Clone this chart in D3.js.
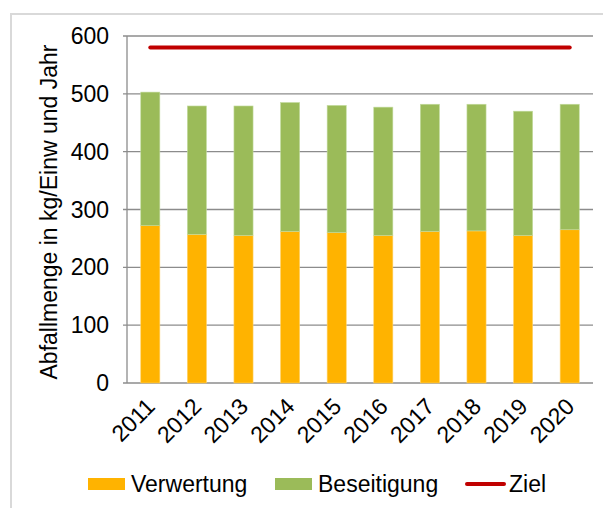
<!DOCTYPE html>
<html>
<head>
<meta charset="utf-8">
<script src="https://cdn.jsdelivr.net/npm/d3@7"></script>
<style>
  body { margin: 0; background: #fff; }
  svg { display: block; font-family: "Liberation Sans", Arial, sans-serif; }
</style>
</head>
<body>
<svg id="chart" width="603" height="508"></svg>
<script>
// Abfallmenge je Einwohner, 2011-2020
var years = ['2011', '2012', '2013', '2014', '2015', '2016', '2017', '2018', '2019', '2020'];
var verwertung = [272, 257, 255, 262, 260, 255, 262, 263, 255, 265];
var beseitigung = [231, 222, 224, 223, 220, 222, 220, 219, 215, 217];
var ziel = 580;
var yTicks = [0, 100, 200, 300, 400, 500, 600];

var svg = d3.select('#chart');

// light frame
svg.append('path')
  .attr('d', 'M11,508 V14 H603')
  .attr('fill', 'none')
  .attr('stroke', '#d9d9d9')
  .attr('stroke-width', 2);

var plotLeft = 127, plotRight = 593, plotTop = 36, plotBottom = 383;

var x = d3.scaleBand().domain(years).range([plotLeft, plotRight]).paddingInner(0.59).paddingOuter(0.295);
var y = d3.scaleLinear().domain([0, 600]).range([plotBottom, plotTop]);

// gridlines
svg.append('g').selectAll('line')
  .data(yTicks)
  .enter()
  .append('line')
  .attr('x1', plotLeft - 4)
  .attr('x2', plotRight)
  .attr('y1', function(d){ return y(d); })
  .attr('y2', function(d){ return y(d); })
  .attr('stroke', '#8c8c8c')
  .attr('stroke-width', 1.3);

// y axis line
svg.append('line')
  .attr('x1', plotLeft).attr('x2', plotLeft)
  .attr('y1', plotTop).attr('y2', plotBottom)
  .attr('stroke', '#8c8c8c')
  .attr('stroke-width', 1.3);

// y tick labels
svg.append('g').selectAll('text')
  .data(yTicks)
  .enter()
  .append('text')
  .attr('x', 109)
  .attr('y', function(d){ return y(d); })
  .attr('dy', '0.35em')
  .attr('text-anchor', 'end')
  .attr('font-size', 23)
  .attr('fill', '#000')
  .text(function(d){ return d; });

// stacked bars
var stacked = years.map(function(yr, i){
  return { year: yr, v: verwertung[i], b: beseitigung[i] };
});

svg.append('g').selectAll('rect.v')
  .data(stacked)
  .enter()
  .append('rect')
  .attr('x', function(d){ return x(d.year); })
  .attr('width', x.bandwidth())
  .attr('y', function(d){ return y(d.v); })
  .attr('height', function(d){ return y(0) - y(d.v); })
  .attr('fill', '#ffb300')
  .attr('stroke', '#ffd36a')
  .attr('stroke-width', 0.6);

svg.append('g').selectAll('rect.b')
  .data(stacked)
  .enter()
  .append('rect')
  .attr('x', function(d){ return x(d.year); })
  .attr('width', x.bandwidth())
  .attr('y', function(d){ return y(d.v + d.b); })
  .attr('height', function(d){ return y(d.v) - y(d.v + d.b); })
  .attr('fill', '#9bbb59')
  .attr('stroke', '#c4dca0')
  .attr('stroke-width', 0.6);

// Ziel line
svg.append('line')
  .attr('x1', x(years[0]) + x.bandwidth() / 2)
  .attr('x2', x(years[years.length - 1]) + x.bandwidth() / 2)
  .attr('y1', y(ziel))
  .attr('y2', y(ziel))
  .attr('stroke', '#c00000')
  .attr('stroke-width', 4)
  .attr('stroke-linecap', 'round');

// x labels
svg.append('g').selectAll('text')
  .data(years)
  .enter()
  .append('text')
  .attr('transform', function(d){
    return 'translate(' + (x(d) + x.bandwidth() / 2 + 6) + ',' + 408 + ') rotate(-45)';
  })
  .attr('text-anchor', 'end')
  .attr('font-size', 23)
  .attr('fill', '#000')
  .text(function(d){ return d; });

// y axis title
svg.append('text')
  .attr('transform', 'translate(57,' + 212 + ') rotate(-90)')
  .attr('text-anchor', 'middle')
  .attr('font-size', 23)
  .attr('fill', '#000')
  .text('Abfallmenge in kg/Einw und Jahr');

// legend
var legend = [
  { type: 'rect', fill: '#ffb300', text: 'Verwertung', x: 88 },
  { type: 'rect', fill: '#9bbb59', text: 'Beseitigung', x: 275 },
  { type: 'line', fill: '#c00000', text: 'Ziel', x: 466 }
];

var lg = svg.append('g').selectAll('g')
  .data(legend)
  .enter()
  .append('g')
  .attr('transform', function(d){ return 'translate(' + d.x + ',484)'; });

lg.filter(function(d){ return d.type == 'rect'; })
  .append('rect')
  .attr('x', 0).attr('y', -6)
  .attr('width', 37).attr('height', 12)
  .attr('fill', function(d){ return d.fill; });

lg.filter(function(d){ return d.type == 'line'; })
  .append('line')
  .attr('x1', 1).attr('x2', 38)
  .attr('y1', 0).attr('y2', 0)
  .attr('stroke', function(d){ return d.fill; })
  .attr('stroke-width', 4)
  .attr('stroke-linecap', 'round');

lg.append('text')
  .attr('x', 43)
  .attr('y', 0)
  .attr('dy', '0.36em')
  .attr('font-size', 23)
  .attr('fill', '#000')
  .text(function(d){ return d.text; });
</script>
</body>
</html>
